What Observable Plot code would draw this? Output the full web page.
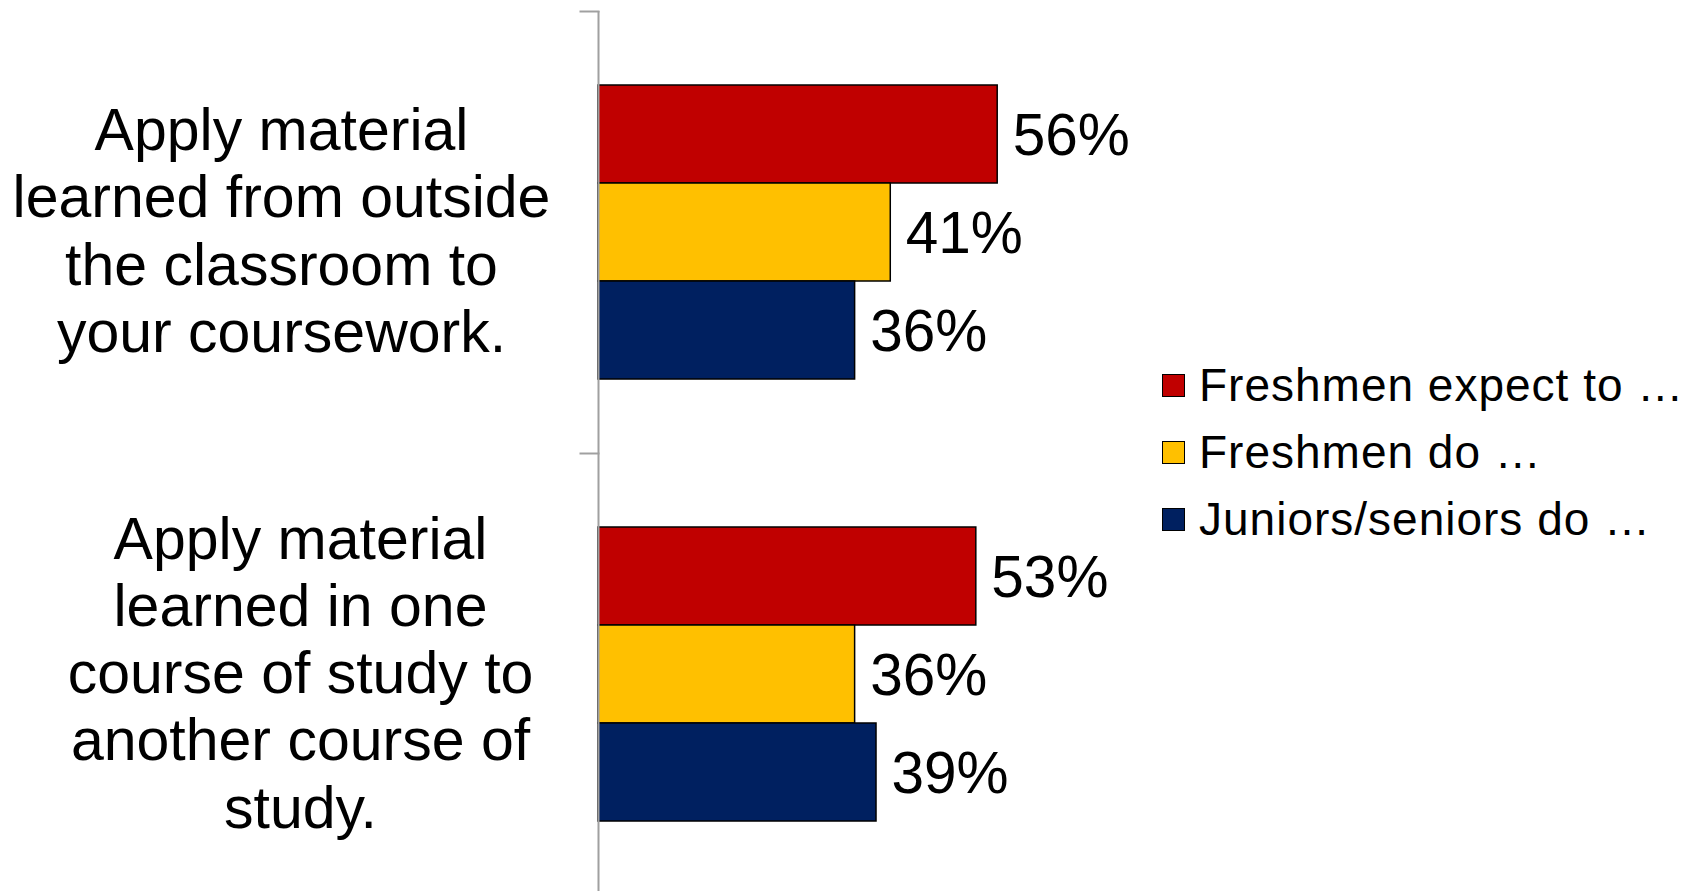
<!DOCTYPE html>
<html>
<head>
<meta charset="utf-8">
<script src="https://cdn.jsdelivr.net/npm/d3@7"></script>
<script src="https://cdn.jsdelivr.net/npm/@observablehq/plot@0.6"></script>
<style>
  html, body { margin: 0; padding: 0; background: #fff; }
  #wrap { position: relative; width: 1694px; height: 891px; font-family: "Liberation Sans", Arial, sans-serif; }
  #legend { position: absolute; left: 1162px; top: 352px; }
  .row { display: flex; align-items: center; height: 67px; }
  .sw { width: 21px; height: 21px; border: 1.5px solid #000; margin-right: 14px; }
  .lt { font-size: 46px; letter-spacing: 1px; line-height: 67px; color: #000; white-space: nowrap; }
</style>
</head>
<body>
<div id="wrap"><div id="chart"></div><div id="legend"></div></div>
<script>
const categories = [
  "Apply material learned from outside the classroom to your coursework.",
  "Apply material learned in one course of study to another course of study."
];
const categoryLines = [
  "Apply material\nlearned from outside\nthe classroom to\nyour coursework.",
  "Apply material\nlearned in one\ncourse of study to\nanother course of\nstudy."
];
const series = ["Freshmen expect to …", "Freshmen do …", "Juniors/seniors do …"];
const colors = ["#C00000", "#FFC000", "#002060"];
const valuesOutside = [56, 41, 36];
const valuesCourse = [53, 36, 39];

const allValues = [valuesOutside, valuesCourse];
const data = [];
categories.forEach((c, i) => series.forEach((s, j) => data.push({category: c, series: s, value: allValues[i][j]})));
const lineOf = new Map(categories.map((c, i) => [c, categoryLines[i]]));

const W = 1694, H = 891, ML = 598, MR = 597;
const labelStyle = {fy: d => d, text: d => lineOf.get(d), frameAnchor: "left", dy: -3, textAnchor: "middle", lineHeight: 1.14, fontSize: 59, fill: "#000"};

const chart = Plot.plot({
  width: W,
  height: H,
  marginLeft: ML,
  marginRight: MR,
  marginTop: 11,
  marginBottom: -4,
  style: {fontFamily: "'Liberation Sans', Arial, sans-serif", background: "#fff", color: "#000"},
  x: {domain: [0, 70], axis: null},
  y: {domain: series, paddingInner: 0, paddingOuter: 0.75, axis: null},
  fy: {domain: categories, padding: 0, axis: null},
  color: {domain: series, range: colors},
  marks: [
    Plot.barX(data, {x: "value", y: "series", fy: "category", fill: "series", stroke: "#000", strokeWidth: 1.5}),
    Plot.text(data, {x: "value", y: "series", fy: "category", text: d => d.value + "%", textAnchor: "start", dx: 15, dy: 2, fontSize: 58.5, fill: "#000"}),
    Plot.ruleX([0], {stroke: "#a0a0a0", strokeWidth: 2}),
    Plot.frame({anchor: "top", stroke: "#a0a0a0", strokeWidth: 2, insetLeft: -18, insetRight: W - ML - MR}),
    Plot.text([categories[0]], {...labelStyle, dx: -317}),
    Plot.text([categories[1]], {...labelStyle, dx: -298})
  ]
});
document.getElementById("chart").appendChild(chart);

const legend = d3.select("#legend");
series.forEach((s, i) => {
  const row = legend.append("div").attr("class", "row");
  row.append("div").attr("class", "sw").style("background", colors[i]);
  row.append("div").attr("class", "lt").text(s);
});
</script>
</body>
</html>
